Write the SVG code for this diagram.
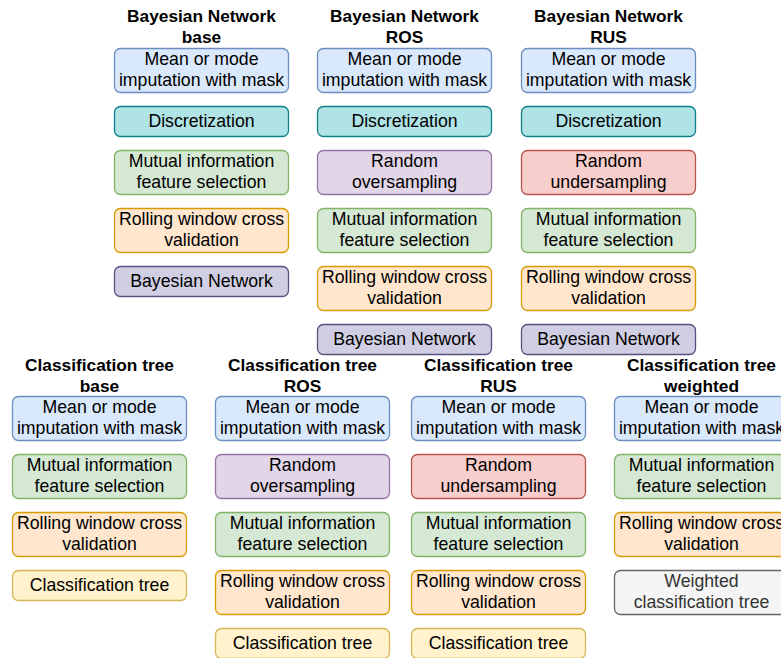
<svg xmlns="http://www.w3.org/2000/svg" width="781" height="658" viewBox="0 0 781 658">
  <style>
    text { font-family: "Liberation Sans", Arial, sans-serif; font-size: 17.7px; fill: #000; text-anchor: middle; }
    .title { font-weight: bold; font-size: 17.3px; }
    rect { stroke-width: 1.3; }
    .imp { fill: #dae8fc; stroke: #6c8ebf; }
    .disc { fill: #b0e3e6; stroke: #0e8088; }
    .mi { fill: #d5e8d4; stroke: #82b366; }
    .cv { fill: #ffe6cc; stroke: #d79b00; }
    .bn { fill: #d0cee2; stroke: #56517e; }
    .ros { fill: #e1d5e7; stroke: #9673a6; }
    .rus { fill: #f8cecc; stroke: #b85450; }
    .ct { fill: #fff2cc; stroke: #d6b656; }
    .wct { fill: #f5f5f5; stroke: #666666; }
    .grey { fill: #333333; }
  </style>
  <rect width="781" height="658" fill="#ffffff" stroke="none"/>

  <!-- Bayesian Network pipelines -->
  <g id="bn-base">
    <text class="title" x="201.5" y="22">Bayesian Network</text>
    <text class="title" x="201.5" y="43">base</text>
    <rect class="imp" x="114.5" y="48.5" width="174" height="44" rx="6"/>
    <text x="201.5" y="65">Mean or mode</text><text x="201.5" y="86">imputation with mask</text>
    <rect class="disc" x="114.5" y="106.5" width="174" height="30" rx="6"/>
    <text x="201.5" y="126.5">Discretization</text>
    <rect class="mi" x="114.5" y="150.5" width="174" height="44" rx="6"/>
    <text x="201.5" y="167">Mutual information</text><text x="201.5" y="188">feature selection</text>
    <rect class="cv" x="114.5" y="208.5" width="174" height="44" rx="6"/>
    <text x="201.5" y="225">Rolling window cross</text><text x="201.5" y="246">validation</text>
    <rect class="bn" x="114.5" y="266.5" width="174" height="30" rx="6"/>
    <text x="201.5" y="286.5">Bayesian Network</text>
  </g>

  <g id="bn-ros">
    <text class="title" x="404.5" y="22">Bayesian Network</text>
    <text class="title" x="404.5" y="43">ROS</text>
    <rect class="imp" x="317.5" y="48.5" width="174" height="44" rx="6"/>
    <text x="404.5" y="65">Mean or mode</text><text x="404.5" y="86">imputation with mask</text>
    <rect class="disc" x="317.5" y="106.5" width="174" height="30" rx="6"/>
    <text x="404.5" y="126.5">Discretization</text>
    <rect class="ros" x="317.5" y="150.5" width="174" height="44" rx="6"/>
    <text x="404.5" y="167">Random</text><text x="404.5" y="188">oversampling</text>
    <rect class="mi" x="317.5" y="208.5" width="174" height="44" rx="6"/>
    <text x="404.5" y="225">Mutual information</text><text x="404.5" y="246">feature selection</text>
    <rect class="cv" x="317.5" y="266.5" width="174" height="44" rx="6"/>
    <text x="404.5" y="283">Rolling window cross</text><text x="404.5" y="304">validation</text>
    <rect class="bn" x="317.5" y="324.5" width="174" height="30" rx="6"/>
    <text x="404.5" y="344.5">Bayesian Network</text>
  </g>

  <g id="bn-rus">
    <text class="title" x="608.5" y="22">Bayesian Network</text>
    <text class="title" x="608.5" y="43">RUS</text>
    <rect class="imp" x="521.5" y="48.5" width="174" height="44" rx="6"/>
    <text x="608.5" y="65">Mean or mode</text><text x="608.5" y="86">imputation with mask</text>
    <rect class="disc" x="521.5" y="106.5" width="174" height="30" rx="6"/>
    <text x="608.5" y="126.5">Discretization</text>
    <rect class="rus" x="521.5" y="150.5" width="174" height="44" rx="6"/>
    <text x="608.5" y="167">Random</text><text x="608.5" y="188">undersampling</text>
    <rect class="mi" x="521.5" y="208.5" width="174" height="44" rx="6"/>
    <text x="608.5" y="225">Mutual information</text><text x="608.5" y="246">feature selection</text>
    <rect class="cv" x="521.5" y="266.5" width="174" height="44" rx="6"/>
    <text x="608.5" y="283">Rolling window cross</text><text x="608.5" y="304">validation</text>
    <rect class="bn" x="521.5" y="324.5" width="174" height="30" rx="6"/>
    <text x="608.5" y="344.5">Bayesian Network</text>
  </g>

  <!-- Classification tree pipelines -->
  <g id="ct-base">
    <text class="title" x="99.5" y="371">Classification tree</text>
    <text class="title" x="99.5" y="392">base</text>
    <rect class="imp" x="12.5" y="396.5" width="174" height="44" rx="6"/>
    <text x="99.5" y="413">Mean or mode</text><text x="99.5" y="434">imputation with mask</text>
    <rect class="mi" x="12.5" y="454.5" width="174" height="44" rx="6"/>
    <text x="99.5" y="471">Mutual information</text><text x="99.5" y="492">feature selection</text>
    <rect class="cv" x="12.5" y="512.5" width="174" height="44" rx="6"/>
    <text x="99.5" y="529">Rolling window cross</text><text x="99.5" y="550">validation</text>
    <rect class="ct" x="12.5" y="570.5" width="174" height="30" rx="6"/>
    <text x="99.5" y="590.5">Classification tree</text>
  </g>

  <g id="ct-ros">
    <text class="title" x="302.5" y="371">Classification tree</text>
    <text class="title" x="302.5" y="392">ROS</text>
    <rect class="imp" x="215.5" y="396.5" width="174" height="44" rx="6"/>
    <text x="302.5" y="413">Mean or mode</text><text x="302.5" y="434">imputation with mask</text>
    <rect class="ros" x="215.5" y="454.5" width="174" height="44" rx="6"/>
    <text x="302.5" y="471">Random</text><text x="302.5" y="492">oversampling</text>
    <rect class="mi" x="215.5" y="512.5" width="174" height="44" rx="6"/>
    <text x="302.5" y="529">Mutual information</text><text x="302.5" y="550">feature selection</text>
    <rect class="cv" x="215.5" y="570.5" width="174" height="44" rx="6"/>
    <text x="302.5" y="587">Rolling window cross</text><text x="302.5" y="608">validation</text>
    <rect class="ct" x="215.5" y="628.5" width="174" height="30" rx="6"/>
    <text x="302.5" y="648.5">Classification tree</text>
  </g>

  <g id="ct-rus">
    <text class="title" x="498.5" y="371">Classification tree</text>
    <text class="title" x="498.5" y="392">RUS</text>
    <rect class="imp" x="411.5" y="396.5" width="174" height="44" rx="6"/>
    <text x="498.5" y="413">Mean or mode</text><text x="498.5" y="434">imputation with mask</text>
    <rect class="rus" x="411.5" y="454.5" width="174" height="44" rx="6"/>
    <text x="498.5" y="471">Random</text><text x="498.5" y="492">undersampling</text>
    <rect class="mi" x="411.5" y="512.5" width="174" height="44" rx="6"/>
    <text x="498.5" y="529">Mutual information</text><text x="498.5" y="550">feature selection</text>
    <rect class="cv" x="411.5" y="570.5" width="174" height="44" rx="6"/>
    <text x="498.5" y="587">Rolling window cross</text><text x="498.5" y="608">validation</text>
    <rect class="ct" x="411.5" y="628.5" width="174" height="30" rx="6"/>
    <text x="498.5" y="648.5">Classification tree</text>
  </g>

  <g id="ct-weighted">
    <text class="title" x="701.5" y="371">Classification tree</text>
    <text class="title" x="701.5" y="392">weighted</text>
    <rect class="imp" x="614.5" y="396.5" width="174" height="44" rx="6"/>
    <text x="701.5" y="413">Mean or mode</text><text x="701.5" y="434">imputation with mask</text>
    <rect class="mi" x="614.5" y="454.5" width="174" height="44" rx="6"/>
    <text x="701.5" y="471">Mutual information</text><text x="701.5" y="492">feature selection</text>
    <rect class="cv" x="614.5" y="512.5" width="174" height="44" rx="6"/>
    <text x="701.5" y="529">Rolling window cross</text><text x="701.5" y="550">validation</text>
    <rect class="wct" x="614.5" y="570.5" width="174" height="44" rx="6"/>
    <text class="grey" x="701.5" y="587">Weighted</text><text class="grey" x="701.5" y="608">classification tree</text>
  </g>

  <!-- no connectors between the pipeline steps -->
  <g id="connectors"/>
</svg>
